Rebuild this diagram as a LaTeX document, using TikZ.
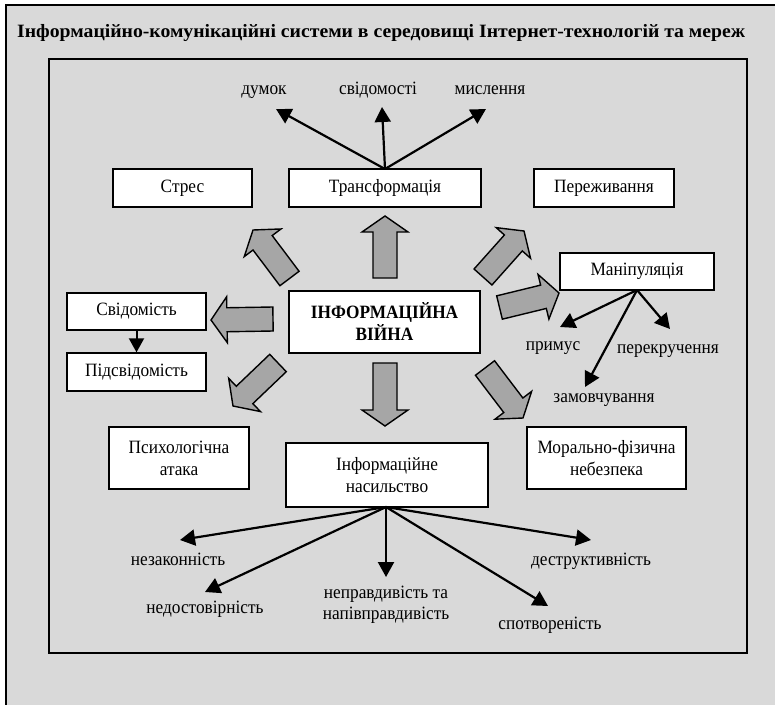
\documentclass[tikz,border=0pt]{standalone}
\usepackage{graphicx}
\usepackage{fontspec}
\setmainfont{Liberation Serif}[FakeStretch=0.92]
\usetikzlibrary{arrows.meta,calc}
\definecolor{bggrey}{HTML}{D9D9D9}
\definecolor{arrowgrey}{HTML}{A6A6A6}
\newcommand\blockarr[2]{%
  \coordinate (hb) at ($(#2)!16pt!(#1)$);
  \draw[barrow] ($(#1)!12pt!90:(#2)$) -- ($(hb)!12pt!90:(#2)$) -- ($(hb)!23pt!90:(#2)$) -- (#2)
     -- ($(hb)!23pt!-90:(#2)$) -- ($(hb)!12pt!-90:(#2)$) -- ($(#1)!12pt!-90:(#2)$) -- cycle;}
\begin{document}
\begin{tikzpicture}[x=1pt,y=-1pt,
  box/.style={draw=black,line width=1.4pt,fill=white,inner sep=0pt,
    font=\fontsize{18.8}{22}\selectfont,align=center},
  lbl/.style={font=\fontsize{18.8}{21}\selectfont,align=center,inner sep=0pt},
  blbl/.style={lbl,anchor=base},
  conn/.style={line width=2.2pt,-{Triangle[length=15pt,width=16pt]}},
  barrow/.style={draw=black,line width=1.4pt,fill=arrowgrey,line join=miter}]
\useasboundingbox (0,0) rectangle (775,704);
% background and frames
\fill[bggrey] (6,5) rectangle (790,720);
\draw[line width=2pt] (6,720) -- (6,5) -- (790,5);
\draw[line width=2.2pt] (49,59) rectangle (747,653);
% title
\node[anchor=base west,inner sep=0pt,font=\bfseries\fontsize{18.8}{22}\selectfont] (title) at (17,37)
  {\resizebox{728pt}{\height}{Інформаційно-комунікаційні системи в середовищі Інтернет-технологій та мереж}};
% boxes
\node[box,minimum width=139pt,minimum height=38pt] (stres) at (182.5,188) {Стрес};
\node[box,minimum width=192pt,minimum height=38pt] (trans) at (385,188) {Трансформація};
\node[box,minimum width=140pt,minimum height=38pt] (perezh) at (604,188) {Переживання};
\node[box,minimum width=154pt,minimum height=37pt] (manip) at (637,271.5) {Маніпуляція};
\node[box,minimum width=191pt,minimum height=62pt,font=\bfseries\fontsize{18.8}{22}\selectfont] (war) at (384.5,322) {ІНФОРМАЦІЙНА\\ВІЙНА};
\node[box,minimum width=139pt,minimum height=37pt] (svid) at (136.5,311.5) {Свідомість};
\node[box,minimum width=139pt,minimum height=38pt] (pidsvid) at (136.5,372) {Підсвідомість};
\node[box,minimum width=140pt,minimum height=62pt] (psych) at (179,458) {Психологічна\\атака};
\node[box,minimum width=202pt,minimum height=64pt] (nasyl) at (387,475) {Інформаційне\\насильство};
\node[box,minimum width=159pt,minimum height=62pt] (moral) at (606.5,458) {Морально-фізична\\небезпека};
% labels
\node[blbl] (dumok) at (264,94) {думок};
\node[blbl] (svidom) at (378,94) {свідомості};
\node[blbl] (myslen) at (490,94) {мислення};
\node[blbl] (prymus) at (553,350) {примус};
\node[blbl] (perekr) at (668,353) {перекручення};
\node[blbl] (zamov) at (604,402) {замовчування};
\node[blbl] (nezak) at (178,565) {незаконність};
\node[blbl] (nedost) at (205,613) {недостовірність};
\node[lbl] (neprav) at (386,605) {неправдивість та\\напівправдивість};
\node[blbl] (spotv) at (550,629) {спотвореність};
\node[blbl] (destr) at (591,565) {деструктивність};
% connector coordinates
\coordinate (tO) at (385,169);
\coordinate (t1) at (276,109);
\coordinate (t2) at (382,107);
\coordinate (t3) at (486,109);
\coordinate (mO) at (637,290);
\coordinate (m1) at (560,327);
\coordinate (m2) at (670,329);
\coordinate (m3) at (585,387);
\coordinate (nO) at (386,507);
\coordinate (n1) at (180,540);
\coordinate (n2) at (205,592);
\coordinate (n3) at (386,577);
\coordinate (n4) at (548,606);
\coordinate (n5) at (591,540);
\draw[conn] (tO) -- (t1);
\draw[conn] (tO) -- (t2);
\draw[conn] (tO) -- (t3);
\draw[conn] (mO) -- (m1);
\draw[conn] (mO) -- (m2);
\draw[conn] (mO) -- (m3);
\draw[conn] (nO) -- (n1);
\draw[conn] (nO) -- (n2);
\draw[conn] (nO) -- (n3);
\draw[conn] (nO) -- (n4);
\draw[conn] (nO) -- (n5);
\draw[line width=2pt,-{Triangle[length=14pt,width=15pt]}] (svid.south) -- (pidsvid.north);
% block arrows
\coordinate (bUa) at (385,278); \coordinate (bUb) at (385,216);
\coordinate (bULa) at (289.5,278.5); \coordinate (bULb) at (253,230);
\coordinate (bURa) at (483,277); \coordinate (bURb) at (524,231);
\coordinate (bLa) at (273,319); \coordinate (bLb) at (211,320);
\coordinate (bRa) at (499.5,307.5); \coordinate (bRb) at (559,293);
\coordinate (bDLa) at (278,363); \coordinate (bDLb) at (233,406);
\coordinate (bDa) at (385,363); \coordinate (bDb) at (385,426);
\coordinate (bDRa) at (485,368); \coordinate (bDRb) at (523,418);
\blockarr{bUa}{bUb}
\blockarr{bULa}{bULb}
\blockarr{bURa}{bURb}
\blockarr{bLa}{bLb}
\blockarr{bRa}{bRb}
\blockarr{bDLa}{bDLb}
\blockarr{bDa}{bDb}
\blockarr{bDRa}{bDRb}
\end{tikzpicture}
\end{document}
